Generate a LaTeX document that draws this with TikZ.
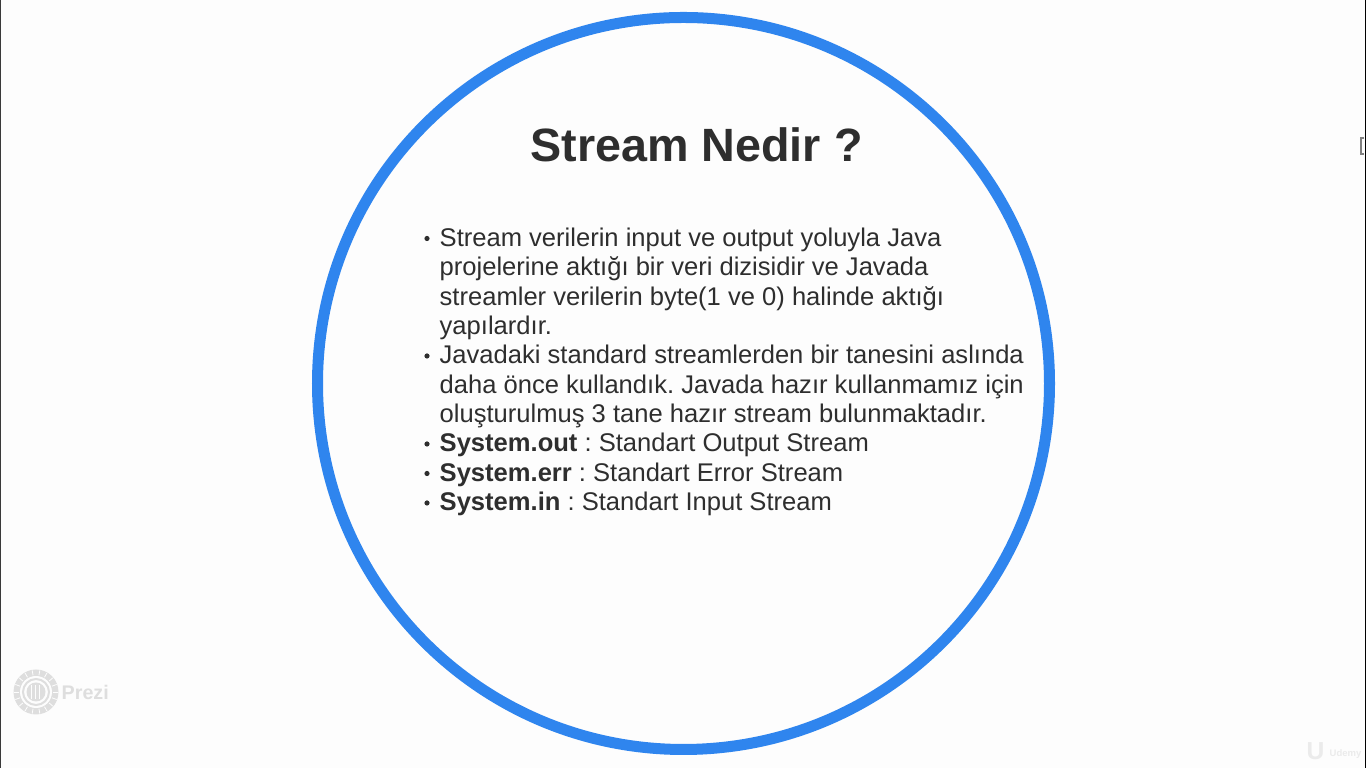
\documentclass[tikz,border=0pt]{standalone}
\usepackage{fontspec}
\setmainfont{Liberation Sans}
\definecolor{ringblue}{HTML}{2F85EE}
\definecolor{inkgray}{HTML}{2E2E2E}
\definecolor{paper}{HTML}{FDFDFD}
\definecolor{edgegray}{HTML}{3A3A3A}
\definecolor{markgray}{HTML}{DEDEDE}
\definecolor{faintgray}{HTML}{EBEBEB}
\tikzset{
  bodytext/.style={inner sep=0pt, anchor=base west, align=left, text=inkgray, font=\fontsize{7.27pt}{8.33pt}\selectfont\frenchspacing},
}
\begin{document}
\begin{tikzpicture}[x=0.01cm, y=-0.01cm]
  \useasboundingbox (0,0) rectangle (1366,768);
  \fill[paper] (0,0) rectangle (1366,768);
  \fill[edgegray] (0,0) rectangle (1,768);
  \fill[black] (1365,0) rectangle (1366,768);
  % ring
  \draw[ringblue, line width=0.11cm] (683.5,383.5) circle (366);
  \node[inner sep=0pt, anchor=base, text=inkgray, font=\fontsize{13.28pt}{16pt}\selectfont\bfseries] (title) at (696.5,162) {Stream Nedir ?};
  % bullet items, anchored on their last line
  \node[bodytext] (itema) at (439,334.5) {Stream verilerin input ve output yoluyla Java\\projelerine aktığı bir veri dizisidir ve Javada\\streamler verilerin byte(1 ve 0) halinde aktığı\\yapılardır.};
  \node[bodytext] (itemb) at (439,422.5) {Javadaki standard streamlerden bir tanesini aslında\\daha önce kullandık. Javada hazır kullanmamız için\\oluşturulmuş 3 tane hazır stream bulunmaktadır.};
  \node[bodytext] (itemc) at (439,452) {\textbf{System.out} : Standart Output Stream};
  \node[bodytext] (itemd) at (439,481.5) {\textbf{System.err} : Standart Error Stream};
  \node[bodytext] (iteme) at (439,511) {\textbf{System.in} : Standart Input Stream};
  \foreach \y in {238.5,356,444,473.5,503}
    \fill[inkgray] (427,\y) circle (2.6);
  % logo, lower left
  \fill[markgray] (36,692) circle (22.5);
  \fill[paper] (36,692) circle (16);
  \draw[markgray, line width=0.02cm] (36,692) circle (13);
  \fill[markgray] (36,692) circle (9.5);
  \foreach \x in {31,35,39} \draw[paper, line width=0.01cm] (\x,685) -- (\x,699);
  \foreach \a in {0,20,...,340} \draw[paper, line width=0.008cm] (36,692) ++(\a:17) -- ++(\a:5);
  \node[inner sep=0pt, anchor=base west, text=markgray, font=\fontsize{5.6pt}{7pt}\selectfont\bfseries] (prezi) at (61,699.5) {Prezi};
  % mark, lower right
  \node[inner sep=0pt, anchor=base west, text=faintgray, font=\fontsize{2.7pt}{4pt}\selectfont\bfseries] (udemy) at (1329,756.5) {Udemy};
  \node[inner sep=0pt, anchor=base east, text=faintgray, font=\fontsize{7pt}{8pt}\selectfont\bfseries] (umark) at (1325,760) {U};
  % cursor
  \draw[gray, line width=0.012cm] (1364,138) -- (1361,138) -- (1361,154) -- (1364,154);
\end{tikzpicture}
\end{document}
